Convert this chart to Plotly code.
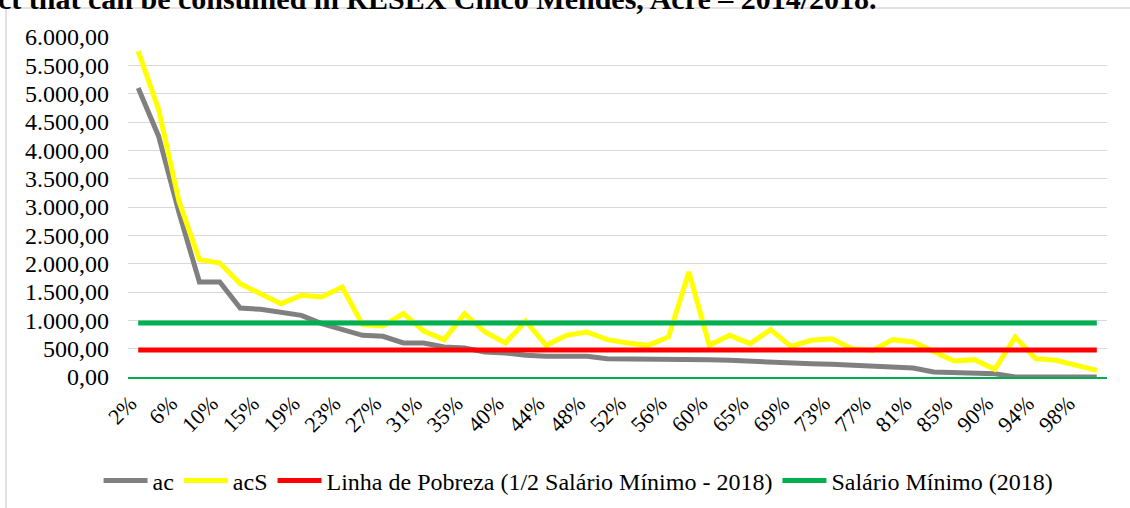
import plotly.graph_objects as go

# ---- data ----
categories = ["2%", "4%", "6%", "8%", "10%", "13%", "15%", "17%", "19%", "21%", "23%", "25%",
              "27%", "29%", "31%", "33%", "35%", "38%", "40%", "42%", "44%", "46%", "48%", "50%",
              "52%", "54%", "56%", "58%", "60%", "63%", "65%", "67%", "69%", "71%", "73%", "75%",
              "77%", "79%", "81%", "83%", "85%", "88%", "90%", "92%", "94%", "96%", "98%", "100%"]

ac = [5100, 4250, 2900, 1676, 1676, 1218, 1194, 1147, 1088, 941, 841, 735,
      718, 600, 600, 529, 512, 441, 424, 382, 365, 365, 365, 324,
      324, 324, 312, 312, 306, 294, 275, 259, 247, 235, 224, 212,
      200, 188, 159, 88, 76, 76, 59, 0, 0, 0, 0, 0]

acS = [5750, 4720, 3100, 2071, 2012, 1647, 1470, 1294, 1441, 1412, 1588, 924,
       900, 1118, 812, 659, 1118, 794, 600, 988, 559, 735, 794, 659,
       600, 559, 706, 1853, 559, 735, 588, 835, 541, 647, 676, 500,
       470, 659, 618, 453, 282, 306, 135, 706, 324, 294, 206, 118]

poverty_line = 477
min_wage = 954

series_names = ["ac", "acS", "Linha de Pobreza (1/2 Salário Mínimo - 2018)", "Salário Mínimo (2018)"]
series_colors = ["#808080", "#FFFF00", "#FF0000", "#00B050"]

ytick_vals = [0, 500, 1000, 1500, 2000, 2500, 3000, 3500, 4000, 4500, 5000, 5500, 6000]
ytick_text = ["0,00", "500,00", "1.000,00", "1.500,00", "2.000,00", "2.500,00", "3.000,00",
              "3.500,00", "4.000,00", "4.500,00", "5.000,00", "5.500,00", "6.000,00"]

title_text = "ct that can be consumed in RESEX Chico Mendes, Acre – 2014/2018."

# ---- figure ----
FONT = "Liberation Serif"
W, H = 1130, 508
L, R, T, B = 128, 23, 37, 131
PW, PH = W - L - R, H - T - B

series_values = [ac, acS, [poverty_line] * len(categories), [min_wage] * len(categories)]

fig = go.Figure()
for name, vals, col in zip(series_names, series_values, series_colors):
    fig.add_trace(go.Scatter(x=categories, y=vals, name=name, mode="lines",
                             line=dict(color=col, width=5), hoverinfo="skip"))

def px_x(p):
    return (p - L) / PW

def px_y(p):
    return (H - B - p) / PH

fig.update_layout(
    width=W, height=H,
    margin=dict(l=L, r=R, t=T, b=B, autoexpand=False),
    paper_bgcolor="white", plot_bgcolor="white",
    font=dict(family=FONT, size=24, color="#000000"),
    showlegend=True,
    legend=dict(orientation="h", xref="container", yref="container",
                x=0.512, xanchor="center", y=1 - 481 / H, yanchor="middle",
                font=dict(family=FONT, size=24, color="#000000"),
                itemwidth=44, tracegroupgap=0, bgcolor="rgba(0,0,0,0)"),
    xaxis=dict(type="category", categoryorder="array", categoryarray=categories,
               range=[-0.5, len(categories) - 0.5],
               tickvals=categories[0::2], ticktext=categories[0::2],
               tickangle=-45, tickfont=dict(family=FONT, size=22, color="#000000"),
               ticklabelshift=-8, ticklabelstandoff=3,
               showgrid=False, showline=True, linecolor="#00B050", linewidth=1.5,
               ticks="", zeroline=False, fixedrange=True, automargin=False),
    yaxis=dict(range=[0, 6000], tickvals=ytick_vals, ticktext=ytick_text,
               tickfont=dict(family=FONT, size=24, color="#000000"),
               showgrid=True, gridcolor="#D9D9D9", gridwidth=1.3,
               zeroline=False, showline=False, ticks="", ticklabelstandoff=18,
               fixedrange=True, automargin=False),
    shapes=[dict(type="rect", xref="paper", yref="paper",
                 x0=px_x(6), x1=px_x(W + 10), y0=px_y(H + 10), y1=px_y(8),
                 line=dict(color="#D9D9D9", width=1.5), fillcolor="rgba(0,0,0,0)", layer="below")],
    annotations=[dict(text="<b>" + title_text + "</b>", xref="paper", yref="paper",
                      x=px_x(-4), y=px_y(-1.5), xanchor="left", yanchor="middle",
                      showarrow=False, font=dict(family=FONT, size=30, color="#000000"))],
)

fig.write_html("out.html", config={"displayModeBar": False},
               post_script="document.body.style.margin='0';document.body.style.overflow='hidden';")
